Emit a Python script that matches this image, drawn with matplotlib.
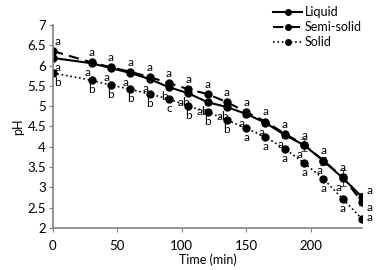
import numpy as np
import matplotlib
matplotlib.use("Agg")
import matplotlib.pyplot as plt
from matplotlib.lines import Line2D

plt.rcParams['font.family'] = ['Lato', 'DejaVu Sans']

# time points (min)
time = [0, 30, 45, 60, 75, 90, 105, 120, 135, 150, 165, 180, 195, 210, 225, 240]

# pH values
liquid = [6.19, 6.06, 5.94, 5.82, 5.67, 5.47, 5.32, 5.10, 4.98, 4.81, 4.59, 4.29, 4.04, 3.65, 3.23, 2.76]
semi = [6.36, 6.08, 5.96, 5.85, 5.72, 5.57, 5.42, 5.30, 5.10, 4.86, 4.62, 4.32, 4.05, 3.66, 3.25, 2.64]
solid = [5.82, 5.64, 5.52, 5.42, 5.30, 5.18, 5.00, 4.86, 4.66, 4.46, 4.24, 3.95, 3.60, 3.21, 2.71, 2.22]

liquid_err = [0.02, 0.02, 0.02, 0.02, 0.03, 0.03, 0.03, 0.03, 0.04, 0.07, 0.04, 0.08, 0.15, 0.1, 0.2, 0.1]
semi_err = [0.02, 0.02, 0.02, 0.02, 0.02, 0.02, 0.03, 0.03, 0.03, 0.05, 0.04, 0.05, 0.06, 0.06, 0.08, 0.08]
solid_err = [0.02, 0.02, 0.02, 0.02, 0.02, 0.02, 0.02, 0.02, 0.03, 0.03, 0.03, 0.04, 0.04, 0.04, 0.04, 0.04]

# significance letters
liquid_lab = ['a', 'a', 'a', 'a', 'a', 'b', 'ab', 'ab', 'ab', 'a', 'a', 'a', 'a', 'a', 'a', 'a']
semi_lab = ['a'] * 16
solid_lab = ['b', 'b', 'b', 'b', 'b', 'c', 'b', 'b', 'b', 'a', 'a', 'a', 'a', 'a', 'a', 'a']

fig = plt.figure(figsize=(3.78, 2.70), dpi=100)
ax = fig.add_axes([0.140, 0.156, 0.818, 0.751])

kw = dict(marker='o', markersize=5, color='black', ecolor='#444444',
          elinewidth=0.8, capsize=2, capthick=0.8)
styles = ['-', (0, (5, 3)), ':']
widths = [1.5, 1.5, 1.2]
ax.errorbar(time, liquid, yerr=liquid_err, linestyle=styles[0], linewidth=widths[0], **kw)
ax.errorbar(time, semi, yerr=semi_err, linestyle=styles[1], linewidth=widths[1], **kw)
ax.errorbar(time, solid, yerr=solid_err, linestyle=styles[2], linewidth=widths[2], **kw)

fs = 8.5
for i, t in enumerate(time):
    if t == 240:
        ax.annotate(liquid_lab[i], (t, liquid[i]), xytext=(3, 4.5), textcoords='offset points',
                    fontsize=fs, va='center', ha='left')
        ax.annotate(semi_lab[i], (t, semi[i]), xytext=(3, -4), textcoords='offset points',
                    fontsize=fs, va='center', ha='left')
        ax.annotate(solid_lab[i], (t, solid[i]), xytext=(3, 1), textcoords='offset points',
                    fontsize=fs, va='center', ha='left')
        continue
    dx = 3 if t == 0 else 0
    ax.annotate(semi_lab[i], (t, semi[i]), xytext=(dx, 3), textcoords='offset points',
                fontsize=fs, va='bottom', ha='center')
    ax.annotate(liquid_lab[i], (t, liquid[i]), xytext=(dx - 3 if t else 3, -3), textcoords='offset points',
                fontsize=fs, va='top', ha='center')
    ax.annotate(solid_lab[i], (t, solid[i]), xytext=(dx, -3), textcoords='offset points',
                fontsize=fs, va='top', ha='center')

ax.set_xlim(0, 240)
ax.set_ylim(2, 7)
ax.set_xticks([0, 50, 100, 150, 200])
ax.set_yticks(np.arange(2, 7.01, 0.5))
ax.set_yticklabels(['2', '2.5', '3', '3.5', '4', '4.5', '5', '5.5', '6', '6.5', '7'])
ax.spines['top'].set_visible(False)
ax.spines['right'].set_visible(False)
for s in ['left', 'bottom']:
    ax.spines[s].set_color('#808080')
    ax.spines[s].set_linewidth(1.2)
ax.tick_params(axis='both', labelsize=9.5, length=3, color='#808080', pad=2)
ax.tick_params(axis='x', pad=6)
ax.set_xlabel('Time (min)', fontsize=9, labelpad=1)
ax.set_ylabel('pH', fontsize=9, labelpad=2)

handles = [Line2D([], [], color='black', marker='o', markersize=4, linestyle=s, linewidth=w)
           for s, w in zip(styles, widths)]
ax.legend(handles, ['Liquid', 'Semi-solid', 'Solid'], loc='upper left',
          bbox_to_anchor=(0.70, 1.01), bbox_transform=fig.transFigure,
          frameon=False, fontsize=9, handlelength=2.3, handletextpad=0.2,
          labelspacing=0.25, borderpad=0.2)

fig.savefig('out.png', dpi=100)
